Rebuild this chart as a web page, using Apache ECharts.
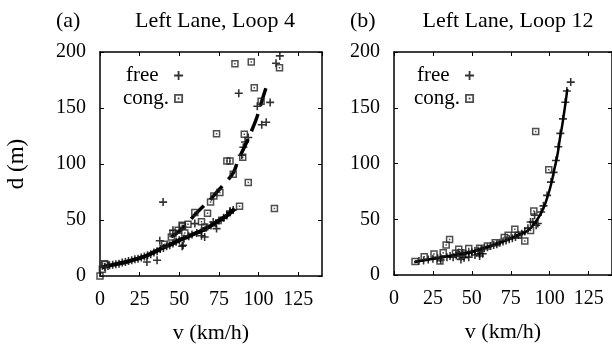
<!DOCTYPE html>
<html>
<head>
<meta charset="utf-8">
<script src="https://cdn.jsdelivr.net/npm/echarts@6/dist/echarts.min.js"></script>
<style>html,body{margin:0;padding:0;background:#fff}#c{width:612px;height:351px}</style>
</head>
<body>
<div id="c"></div>
<script>
// ---------- data ----------
const xTicks = [0, 25, 50, 75, 100, 125];
const yTicks = [0, 50, 100, 150, 200];
const panelLabels = ['(a)', '(b)'];
const panelTitles = ['Left Lane, Loop 4', 'Left Lane, Loop 12'];
const seriesNames = ['free', 'cong.'];

// Panel (a): Loop 4
const aFreeFit = [[1,7.5],[5,9],[10,10.5],[15,12],[20,14],[25,16],[30,18.5],[35,22],[40,25.5],[45,28.5],[50,32],[55,35],[60,38],[65,41],[70,45],[75,49.5],[80,54],[85,60]];
const aCongFit = [[45,35],[50,40],[55,47],[60,55],[65,62],[70,69],[75,77],[80,85],[84,92],[87,103],[90,112],[93,121],[96,131],[99,142],[102,156],[104,165],[106,174]];
const aFree = [[3,8],[5,9],[6,9.5],[8,10],[10,10.5],[12,11],[14,12],[16,12.5],[18,13.5],[20,14],[22,15],[24,15.5],[26,16.5],[28,17.5],[30,18.5],[32,19.5],[34,21],[36,22],[38,24],[40,25],[42,26.5],[44,27.5],[46,29],[48,30.5],[50,32],[53,33.5],[56,35.5],[58,37],[61,38.5],[64,40],[67,43],[70,45],[73,47],[75,49.5],[78,52],[80,54],[82,57],[84,59],
  [39.8,66],[37.7,31.5],[29.6,12.5],[36,14],[51.8,26.5],[64,36],[66,34.8],[73.5,42.3],[71.4,48.2],[76.3,49.7],[52.4,27.4],[82,58],[59.8,46.8],[46,40.8],
  [113.4,196.5],[111,190],[87.5,163.2],[99.2,151.5],[107.3,155],[102,135],[104.8,137.3],[93.5,123.6],[91.5,119.6],[90.4,115],[89.4,107.8]];
const aCong = [[0,0],[1.5,6],[2.8,11],[3.3,10.2],[40.8,28.3],[45,34.8],[46,37.9],[49.3,40.8],[52,44.4],[53.5,38.5],[55.5,46.3],[51.8,45.3],[59.8,56.8],[67.8,56],[64,48.5],[66,43.8],[69.7,66],[71.8,71.5],[75.6,74.5],[84,90.8],[80,102.7],[82,102.7],[90,106],[93.5,83.4],[88,62.3],[110,60.2],[73.5,127],[91,126.5],[85.1,189.6],[95.4,191],[113.2,186],[97.3,168],[101.6,156]];

// Panel (b): Loop 12
const bFreeFit = [[13,11.5],[20,13.5],[25,14.5],[30,16],[37,17.5],[45,19.5],[50,21],[55,23],[62,26],[68,29],[74,32.5],[80,36],[86,40],[90,46],[93,52],[96,60],[99,72],[101,82],[103,95],[105,108],[106.5,122],[108,134],[109.5,148],[110.5,158],[111.3,167]];
const bFree = [[113.5,173],[111,165],[110,155],[108.5,140],[106.8,127],[105.5,115],[104,102.7],[102.5,92],[100.8,83.3],[98.3,71.4],[96,62],[94.5,56.5],[90.3,53.6],[89.2,47.6],[91.3,44.6],[92.4,46.2],[87.7,47.6],[86,42],[84,39],[82,37],[80,36],[78,34],[76,33],[74,32],[72,31],[70,30],[68,29],[66,27.5],[64,27],[62,26],[60,25],[58,24],[56,23],[54,22],[52,21.5],[50,20.5],[48,19.5],[46,19],[44,18.5],[42,18],[40,17.5],[38,16],[36,17],[34,16],[30,15.5],[28,15],[25,14.5],[22,14],[19,13],[16,12.5],[45,15.5],[48,16],[43,14],[30,13.5],[55,19],[52,18],[55,17],[57,19]];
const bCong = [[13.5,12],[19.4,16.4],[25.7,18.8],[29.5,12.5],[31.6,20],[33.5,26.8],[35.7,31.9],[39.5,19.4],[41.6,23],[43,20],[48,23.8],[55,24],[60,26],[65,29],[70.8,33.6],[73.3,35.7],[77.6,41],[79.7,35.7],[84,30.6],[87.7,40],[89.8,57.4],[99.4,94.4],[91,128.8]];

// ---------- chart ----------
const FONT = 'Liberation Serif';
const PLUS = 'path://M4,0H6V4H10V6H6V10H4V6H0V4H4Z';
const SQUARE = 'path://M0,0L10,0L10,10L0,10Z M2,2L2,8L8,8L8,2Z M4,4L6,4L6,6L4,6Z';

function xAx(gi, bottom) {
  return {
    type: 'value', gridIndex: gi, min: 0, max: 140, interval: 25,
    position: bottom ? 'bottom' : 'top',
    name: bottom ? 'v (km/h)' : '', nameLocation: 'middle', nameGap: 46,
    nameTextStyle: {fontFamily: FONT, fontSize: 22, color: '#000'},
    axisLine: {show: true, onZero: false, lineStyle: {color: '#000', width: 1.5}},
    axisTick: {show: true, inside: true, length: 4, lineStyle: {color: '#000'}},
    axisLabel: {show: bottom, fontFamily: FONT, fontSize: 20, color: '#000', margin: 14, showMaxLabel: false,
      formatter: v => xTicks.includes(v) ? String(v) : ''},
    splitLine: {show: false}
  };
}
function yAx(gi, left, withName) {
  return {
    type: 'value', gridIndex: gi, min: 0, max: 200, interval: 50,
    position: left ? 'left' : 'right',
    name: withName ? 'd (m)' : '', nameLocation: 'middle', nameGap: 72, nameRotate: 90,
    nameTextStyle: {fontFamily: FONT, fontSize: 23, color: '#000'},
    axisLine: {show: true, onZero: false, lineStyle: {color: '#000', width: 1.5}},
    axisTick: {show: true, inside: true, length: 4, lineStyle: {color: '#000'}},
    axisLabel: {show: left, fontFamily: FONT, fontSize: 20, color: '#000', margin: 14,
      formatter: v => yTicks.includes(v) ? String(v) : ''},
    splitLine: {show: false}
  };
}

const sym = {free: {symbol: PLUS, symbolSize: 8}, cong: {symbol: SQUARE, symbolSize: 7.5}};

const legendBase = {data: seriesNames, orient: 'vertical', align: 'right', top: 60, itemGap: 2, itemWidth: 9, itemHeight: 9,
  formatter: n => n === 'free' ? 'free\u00a0\u00a0' : n,
  textStyle: {fontFamily: FONT, fontSize: 21, color: '#000'}, selectedMode: false};

const option = {
  backgroundColor: '#fff',
  animation: false,
  title: [
    {text: panelLabels[0], left: 51, top: 5, textStyle: {fontFamily: FONT, fontSize: 22, fontWeight: 'normal', color: '#000'}},
    {text: panelTitles[0], left: 210, top: 5, textAlign: 'center', textStyle: {fontFamily: FONT, fontSize: 22, fontWeight: 'normal', color: '#000'}},
    {text: panelLabels[1], left: 345, top: 5, textStyle: {fontFamily: FONT, fontSize: 22, fontWeight: 'normal', color: '#000'}},
    {text: panelTitles[1], left: 503, top: 5, textAlign: 'center', textStyle: {fontFamily: FONT, fontSize: 22, fontWeight: 'normal', color: '#000'}}
  ],
  legend: [
    Object.assign({}, legendBase, {left: 118}),
    Object.assign({}, legendBase, {left: 409})
  ],
  grid: [
    {left: 100, top: 52, width: 222, height: 224},
    {left: 394, top: 52, width: 220, height: 223}
  ],
  xAxis: [xAx(0, true), xAx(0, false), xAx(1, true), xAx(1, false)],
  yAxis: [yAx(0, true, true), yAx(0, false, false), yAx(1, true, false), yAx(1, false, false)],
  series: [
    {type: 'line', xAxisIndex: 0, yAxisIndex: 0, data: aFreeFit, smooth: true, showSymbol: false, lineStyle: {color: '#000', width: 4}, z: 3},
    {type: 'line', xAxisIndex: 0, yAxisIndex: 0, data: aCongFit, smooth: true, showSymbol: false, lineStyle: {color: '#000', width: 3.5, type: [18, 9]}, z: 3},
    {name: 'free', type: 'scatter', xAxisIndex: 0, yAxisIndex: 0, data: aFree, ...sym.free, itemStyle: {color: '#000'}, z: 4},
    {name: 'cong.', type: 'scatter', xAxisIndex: 0, yAxisIndex: 0, data: aCong, ...sym.cong, itemStyle: {color: '#222'}, z: 5},
    {type: 'line', xAxisIndex: 2, yAxisIndex: 2, data: bFreeFit, smooth: true, showSymbol: false, lineStyle: {color: '#000', width: 2.5}, z: 3},
    {name: 'free', type: 'scatter', xAxisIndex: 2, yAxisIndex: 2, data: bFree, ...sym.free, itemStyle: {color: '#000'}, z: 4},
    {name: 'cong.', type: 'scatter', xAxisIndex: 2, yAxisIndex: 2, data: bCong, ...sym.cong, itemStyle: {color: '#222'}, z: 5}
  ]
};
const chart = echarts.init(document.getElementById('c'), null, {renderer: 'canvas'});
chart.setOption(option);
</script>
</body>
</html>
